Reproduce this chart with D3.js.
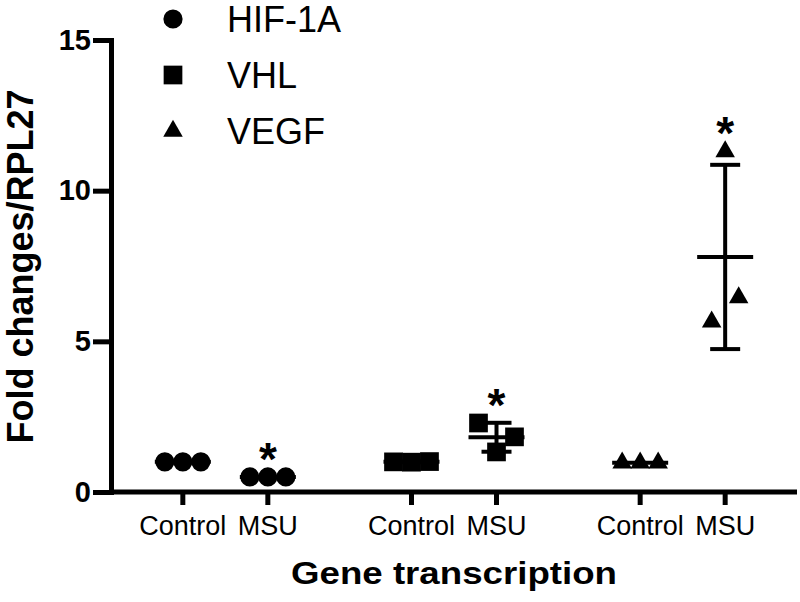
<!DOCTYPE html>
<html>
<head>
<meta charset="utf-8">
<script src="https://cdn.jsdelivr.net/npm/d3@7"></script>
<style>
  html, body { margin: 0; padding: 0; background: #fff; }
  svg { display: block; font-family: "Liberation Sans", Arial, sans-serif; }
</style>
</head>
<body>
<div id="chart"></div>
<script>
// genes on the x axis, two conditions each
var genes = ["HIF-1A", "VHL", "VEGF"];
var conditions = ["Control", "MSU"];
var yTicks = [0, 5, 10, 15];

// fold change replicates
var hifControl = [1.0, 1.0, 1.0];
var hifMSU = [0.5, 0.5, 0.5];
var vhlControl = [1.0, 0.99, 1.01];
var vhlMSU = [2.29, 1.33, 1.83];
var vegfControl = [0.97, 0.97, 0.97];
var vegfMSU = [11.3, 5.65, 6.45];

// significance vs control
var significant = [true, true, true];

var series = [
  { gene: "HIF-1A", cond: "Control", values: hifControl },
  { gene: "HIF-1A", cond: "MSU", values: hifMSU },
  { gene: "VHL", cond: "Control", values: vhlControl },
  { gene: "VHL", cond: "MSU", values: vhlMSU },
  { gene: "VEGF", cond: "Control", values: vegfControl },
  { gene: "VEGF", cond: "MSU", values: vegfMSU }
];

(function() {
  var W = 800, H = 602;
  var left = 111, right = 797, top = 40, bottom = 492;
  var axisW = 5, barW = 4;

  var svg = d3.select('#chart').append('svg:svg').attr('width', W).attr('height', H);

  var shapes = { "HIF-1A": d3.symbolCircle, "VHL": d3.symbolSquare, "VEGF": d3.symbolTriangle };
  var sizes = { "HIF-1A": 290, "VHL": 350, "VEGF": 165 };
  var symbol = function(g) { return d3.symbol().type(shapes[g]).size(sizes[g])(); };

  var y = d3.scaleLinear().domain([0, 15]).range([bottom, top]);
  var xg = d3.scaleBand().domain(genes).range([left, right]);
  var xc = d3.scalePoint().domain(conditions).range([0, xg.bandwidth()]).padding(0.845);
  var xPos = function(g, c) { return xg(g) + xc(c); };

  // y axis
  var yAxis = svg.append('g').attr('transform', 'translate(' + left + ',0)')
    .call(d3.axisLeft(y).tickValues(yTicks).tickSize(18).tickSizeOuter(0).tickPadding(2));
  yAxis.select('.domain').attr('stroke-width', axisW).attr('stroke-linecap', 'square');
  yAxis.selectAll('.tick line').attr('stroke-width', axisW);
  yAxis.selectAll('.tick text').attr('font-size', 29).attr('font-weight', 'bold')
    .attr('font-family', '"Liberation Sans", Arial, sans-serif').attr('fill', '#000');

  // x axis: baseline + a tick under every condition
  var xKeys = [];
  genes.forEach(function(g) { conditions.forEach(function(c) { xKeys.push({ g: g, c: c }); }); });
  svg.append('line').attr('x1', left).attr('x2', right).attr('y1', bottom).attr('y2', bottom)
    .attr('stroke', '#000').attr('stroke-width', axisW);
  var xt = svg.append('g').selectAll('g').data(xKeys).enter().append('g')
    .attr('transform', function(d) { return 'translate(' + xPos(d.g, d.c) + ',' + bottom + ')'; });
  xt.append('line').attr('y1', 0).attr('y2', 13).attr('stroke', '#000').attr('stroke-width', axisW);
  xt.append('text').attr('y', 43).attr('text-anchor', 'middle').attr('font-size', 27)
    .text(function(d) { return d.c; });

  // axis titles
  svg.append('text').attr('transform', 'translate(33,' + ((88 + 445) / 2) + ') rotate(-90)')
    .attr('text-anchor', 'middle').attr('font-size', 36).attr('font-weight', 'bold')
    .text('Fold changes/RPL27');
  svg.append('text').attr('x', (left + right) / 2).attr('y', 584).attr('text-anchor', 'middle')
    .attr('font-size', 31).attr('font-weight', 'bold')
    .attr('textLength', 326).attr('lengthAdjust', 'spacingAndGlyphs')
    .text('Gene transcription');

  // spread points that would overlap side by side
  var layout = function(s) {
    var cx = xPos(s.gene, s.cond);
    var idx = d3.range(s.values.length).sort(function(a, b) { return s.values[a] - s.values[b]; });
    var clusters = [], cur = [];
    idx.forEach(function(i, k) {
      if (k > 0 && y(s.values[idx[k - 1]]) - y(s.values[i]) > 26) { clusters.push(cur); cur = []; }
      cur.push(i);
    });
    clusters.push(cur);
    var pts = [];
    clusters.forEach(function(cl) {
      cl.sort(d3.ascending);
      var spread = cl.length > 2 ? 18 : 27;
      cl.forEach(function(i, k) {
        pts.push({ x: cx + (k - (cl.length - 1) / 2) * spread, y: y(s.values[i]), gene: s.gene });
      });
    });
    return pts;
  };

  series.forEach(function(s) {
    var cx = xPos(s.gene, s.cond);
    var m = d3.mean(s.values), sd = d3.deviation(s.values) || 0;
    var g = svg.append('g').attr('stroke', '#000').attr('stroke-width', barW);
    g.append('line').attr('x1', cx - 28).attr('x2', cx + 28).attr('y1', y(m)).attr('y2', y(m));
    if (sd > 0) {
      g.append('line').attr('x1', cx).attr('x2', cx).attr('y1', y(m - sd)).attr('y2', y(m + sd));
      [m - sd, m + sd].forEach(function(v) {
        g.append('line').attr('x1', cx - 15).attr('x2', cx + 15).attr('y1', y(v)).attr('y2', y(v));
      });
    }
    svg.append('g').selectAll('path').data(layout(s)).enter().append('path')
      .attr('d', function(d) { return symbol(d.gene); })
      .attr('transform', function(d) { return 'translate(' + d.x + ',' + d.y + ')'; })
      .attr('fill', '#000');
  });

  // stars over the MSU groups
  genes.forEach(function(gname, i) {
    if (!significant[i]) return;
    var s = series.filter(function(d) { return d.gene === gname && d.cond === 'MSU'; })[0];
    var top = y(d3.max(s.values));
    svg.append('text').attr('x', xPos(gname, 'MSU')).attr('y', top - 29 + 27)
      .attr('text-anchor', 'middle').attr('font-size', 46).attr('font-weight', 'bold').text('*');
  });

  // legend
  var lg = svg.append('g').selectAll('g').data(genes).enter().append('g')
    .attr('transform', function(d, i) { return 'translate(173,' + (19 + i * 56) + ')'; });
  lg.append('path').attr('d', function(d) { return symbol(d); }).attr('fill', '#000');
  lg.append('text').attr('x', 54).attr('y', 13).attr('font-size', 36).text(function(d) { return d; });
})();
</script>
</body>
</html>
